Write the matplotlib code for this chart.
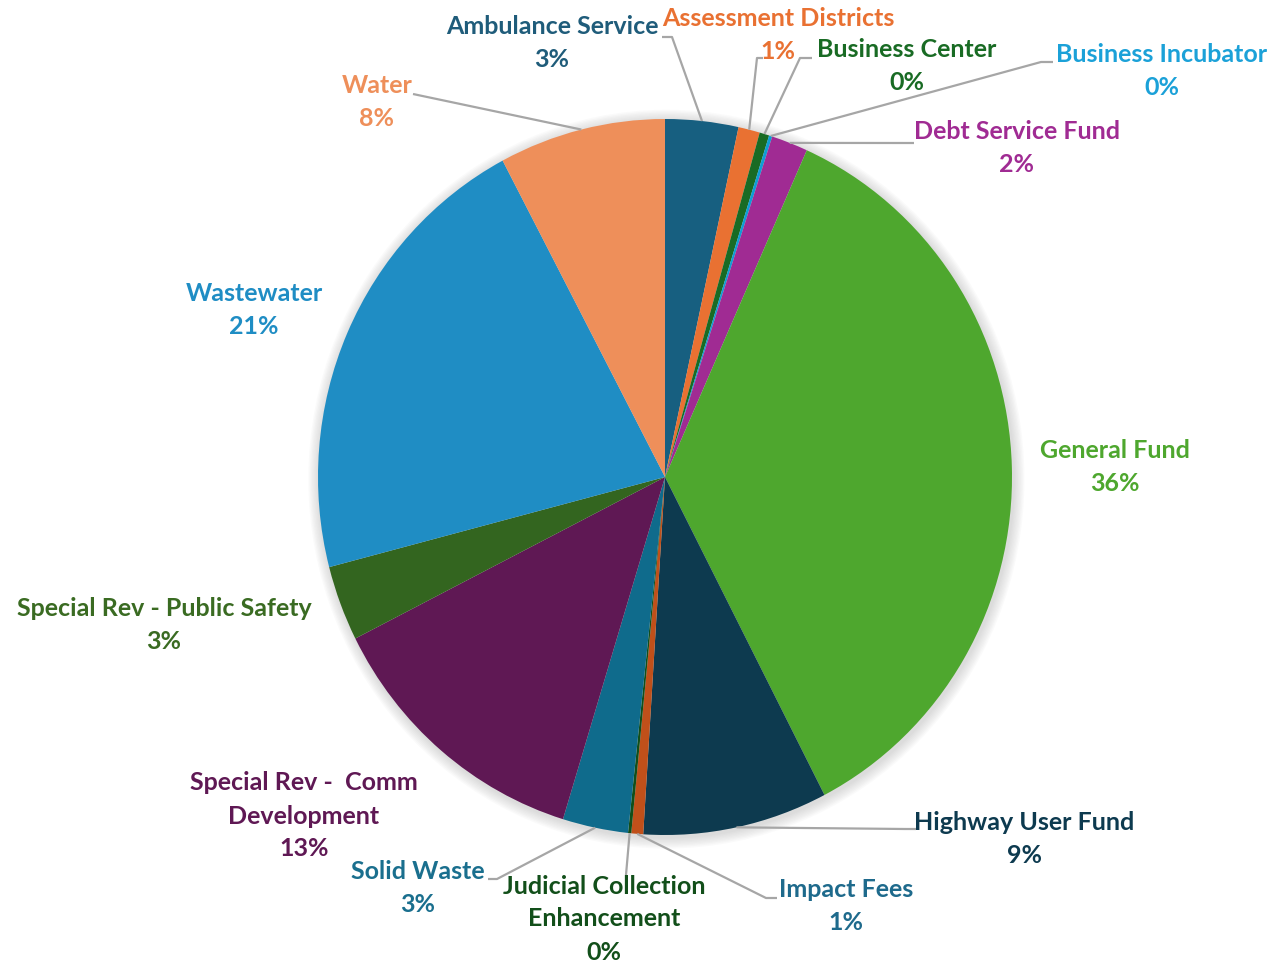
import numpy as np
import matplotlib
matplotlib.use("Agg")
import matplotlib.pyplot as plt
from matplotlib.patches import Ellipse

W, H = 1276, 966

# fund shares of the budget (percent), clockwise from 12 o'clock
funds = [
    "Ambulance Service", "Assessment Districts", "Business Center",
    "Business Incubator", "Debt Service Fund", "General Fund",
    "Highway User Fund", "Impact Fees", "Judicial Collection\nEnhancement",
    "Solid Waste", "Special Rev -  Comm\nDevelopment",
    "Special Rev - Public Safety", "Wastewater", "Water",
]
shares = [3.4, 1.0, 0.45, 0.15, 1.7, 35.7, 8.6, 0.55, 0.15, 3.05, 12.8, 3.4, 21.3, 7.75]

slice_colors = [
    "#175F80", "#E97132", "#196B24", "#0F9ED5", "#A02B93", "#4EA72E",
    "#0D3A4F", "#C0501A", "#124F1A", "#0F6B8C", "#5F1854", "#33651F",
    "#1F8DC4", "#EE8F5A",
]
text_colors = [
    "#1F5C7A", "#E97132", "#196B24", "#1BA1D8", "#A02B93", "#4EA72E",
    "#0D3A4F", "#1E6A8C", "#124F1A", "#1A6F8E", "#5F1854", "#3A6B22",
    "#1F8DC4", "#EE8F5A",
]

# label block centres in pixels (x, y of the block centre)
label_pos = [
    (552, 43), (778, 35), (907, 66), (1162, 71), (1017, 148), (1115, 467),
    (1024, 839), (846, 906), (604, 919), (418, 888), (304, 816), (164, 625),
    (254, 310), (377, 102),
]
LINE_STEP = 33  # pixels between label lines

# leader lines: label-side start and knee, in pixels (None = no line)
leaders = [
    ((662, 37), (672, 37)),
    ((763, 58), (757, 58)),
    ((812, 58), (800, 58)),
    ((1053, 62), (1041, 62)),
    ((914, 143), (903, 143)),
    None,
    ((916, 829), (905, 829)),
    ((777, 898), (766, 898)),
    ((626, 875), (626, 875)),
    ((488, 879), (497, 879)),
    None,
    None,
    None,
    ((413, 94), (413, 94)),
]

fig = plt.figure(figsize=(W / 100, H / 100), dpi=100)
fig.patch.set_facecolor("white")

# pie drawn in a box slightly taller than wide
px0, py0, px1, py1 = 318, 119, 1012, 835
ax = fig.add_axes([px0 / W, 1 - py1 / H, (px1 - px0) / W, (py1 - py0) / H])

# soft shadow behind the pie
for k in range(8):
    r = 1.0 + 0.004 * (k + 1)
    ax.add_patch(Ellipse((0.004, -0.006), 2 * r, 2 * r, color="#808080",
                         alpha=0.035, lw=0, zorder=0, clip_on=False))

wedges, _ = ax.pie(shares, colors=slice_colors, startangle=90,
                   counterclock=False, radius=1,
                   wedgeprops=dict(linewidth=0, zorder=2))
ax.set_aspect("auto")
ax.set_xlim(-1, 1)
ax.set_ylim(-1, 1)
ax.axis("off")

# overlay in pixel coordinates for labels and leader lines
ov = fig.add_axes([0, 0, 1, 1], facecolor="none")
ov.set_xlim(0, W)
ov.set_ylim(H, 0)
ov.axis("off")
fig.canvas.draw()

total = sum(shares)
for i, (name, val) in enumerate(zip(funds, shares)):
    pct = f"{round(val / total * 100):.0f}%"
    x, y = label_pos[i]
    lines = name.split("\n") + [pct]
    n = len(lines)
    for k, line in enumerate(lines):
        ov.text(x, y + (k - (n - 1) / 2) * LINE_STEP, line,
                ha="center", va="center", fontsize=18, fontweight="bold",
                family="Lato", color=text_colors[i], zorder=5)
    if leaders[i] is None:
        continue
    w = wedges[i]
    mid = np.deg2rad((w.theta1 + w.theta2) / 2)
    disp = ax.transData.transform((np.cos(mid), np.sin(mid)))
    ax_x, ax_y = ov.transData.inverted().transform(disp)
    (sx, sy), (kx, ky) = leaders[i]
    ov.plot([sx, kx, ax_x], [sy, ky, ax_y], color="#A6A6A6", lw=1.6,
            zorder=4, solid_capstyle="butt")

fig.savefig("out.png", dpi=100, facecolor="white")
